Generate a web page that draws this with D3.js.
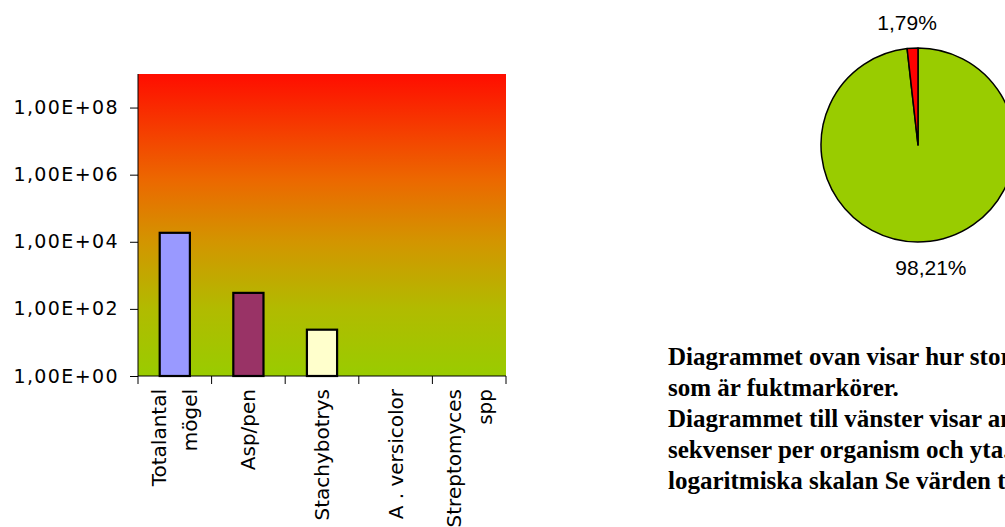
<!DOCTYPE html>
<html>
<head>
<meta charset="utf-8">
<script src="https://cdn.jsdelivr.net/npm/d3@7"></script>
<style>
  body { margin: 0; background: #fff; }
  svg { display: block; }
</style>
</head>
<body>
<div id="chart"></div>
<script>
// Bar chart data (log scale)
const categories = ['Totalantal mögel', 'Asp/pen', 'Stachybotrys', 'A . versicolor', 'Streptomyces spp']
const categoryLines = [['Totalantal', 'mögel'], ['Asp/pen'], ['Stachybotrys'], ['A . versicolor'], ['Streptomyces', 'spp']]
const barValues = [18500, 300, 24, 0, 0]
const barColors = ['#9999ff', '#993366', '#ffffcc', '#ccffff', '#660066']
const yTicks = [1, 1e2, 1e4, 1e6, 1e8]

// Pie chart data
const pieLabels = ['Övrigt', 'Fuktmarkörer']
const pieValues = [98.21, 1.79]
const pieColors = ['#99cc00', '#ff0000']

// Text beside the charts
const noteLines = [
  'Diagrammet ovan visar hur stor',
  'som är fuktmarkörer.',
  'Diagrammet till vänster visar antal',
  'sekvenser per organism och yta.',
  'logaritmiska skalan Se värden till'
]

const width = 1005
const height = 527

const svg = d3.select('#chart')
  .append('svg')
  .attr('width', width)
  .attr('height', height)

// ---- Bar chart ----
const plot = { left: 138, right: 506, top: 74, bottom: 376 }

const x = d3.scaleBand()
  .domain(categories)
  .range([plot.left, plot.right])
  .paddingInner(0.59)
  .paddingOuter(0.295)

const y = d3.scaleLog()
  .domain([1, 1e9])
  .range([plot.bottom, plot.top])

// background gradient red -> green
const defs = svg.append('defs')
const grad = defs.append('linearGradient')
  .attr('id', 'bg')
  .attr('x1', 0).attr('y1', 0)
  .attr('x2', 0).attr('y2', 1)
const stops = [[0, '#ff0d00'], [0.35, '#ec6800'], [0.56, '#d29600'], [0.78, '#b1bb00'], [1, '#99cc00']]
grad.selectAll('stop')
  .data(stops)
  .join('stop')
  .attr('offset', d => d[0])
  .attr('stop-color', d => d[1])

svg.append('rect')
  .attr('x', plot.left)
  .attr('y', plot.top)
  .attr('width', plot.right - plot.left)
  .attr('height', plot.bottom - plot.top)
  .attr('fill', 'url(#bg)')

// bars, skip zero values since they can't be drawn on a log scale
svg.append('g')
  .selectAll('rect')
  .data(categories.map((c, i) => ({ cat: c, value: barValues[i], color: barColors[i] })).filter(d => d.value > 0))
  .join('rect')
  .attr('x', d => x(d.cat))
  .attr('y', d => y(d.value))
  .attr('width', x.bandwidth())
  .attr('height', d => y(1) - y(d.value))
  .attr('fill', d => d.color)
  .attr('stroke', '#000')
  .attr('stroke-width', 2.2)

// y axis with "1,00E+08" style labels
function sciFormat(v) {
  const exp = Math.round(Math.log10(v))
  return '1,00E+' + String(exp).padStart(2, '0')
}

const yAxis = svg.append('g')
  .attr('transform', 'translate(' + plot.left + ',0)')
  .call(d3.axisLeft(y).tickValues(yTicks).tickFormat(sciFormat).tickSize(8).tickPadding(11).tickSizeOuter(0))
yAxis.select('.domain').attr('d', 'M0,' + plot.top + 'V' + plot.bottom)
yAxis.selectAll('text')
  .attr('font-family', 'DejaVu Sans, Verdana, sans-serif')
  .attr('font-size', 19)
  .attr('letter-spacing', 1.4)
  .attr('fill', '#000')

// x axis: baseline plus ticks on category boundaries
const xAxis = svg.append('g')
const gap = (x.step() - x.bandwidth()) / 2
const boundaries = categories.map(c => x(c) - gap).concat([plot.right])

xAxis.append('line')
  .attr('x1', plot.left).attr('x2', plot.right)
  .attr('y1', plot.bottom).attr('y2', plot.bottom)
  .attr('stroke', '#000')

xAxis.selectAll('.tick')
  .data(boundaries)
  .join('line')
  .attr('class', 'tick')
  .attr('x1', d => d).attr('x2', d => d)
  .attr('y1', plot.bottom).attr('y2', plot.bottom + 8)
  .attr('stroke', '#000')

const lineGap = 31
xAxis.selectAll('.cat-label')
  .data(categories)
  .join('text')
  .attr('class', 'cat-label')
  .attr('transform', d => 'translate(' + (x(d) + x.bandwidth() / 2) + ',' + (plot.bottom + 13) + ') rotate(-90)')
  .attr('text-anchor', 'end')
  .attr('font-family', 'DejaVu Sans, Verdana, sans-serif')
  .attr('font-size', 20)
  .attr('fill', '#000')
  .each(function (d, i) {
    const lines = categoryLines[i]
    d3.select(this).selectAll('tspan')
      .data(lines)
      .join('tspan')
      .attr('x', 0)
      .attr('y', (l, j) => (j - (lines.length - 1) / 2) * lineGap + 7)
      .text(l => l)
  })

// ---- Pie chart ----
const pieCx = 918
const pieCy = 145
const radius = 97

const pie = d3.pie()
  .sort(null)
  .value(d => d)

const arc = d3.arc()
  .innerRadius(0)
  .outerRadius(radius)

const labelArc = d3.arc()
  .innerRadius(radius + 26)
  .outerRadius(radius + 26)

const pieGroup = svg.append('g')
  .attr('transform', 'translate(' + pieCx + ',' + pieCy + ')')

const pieData = pie(pieValues)

pieGroup.selectAll('path')
  .data(pieData)
  .join('path')
  .attr('d', arc)
  .attr('fill', (d, i) => pieColors[i])
  .attr('stroke', '#000')
  .attr('stroke-width', 1.5)
  .attr('stroke-linejoin', 'round')

const pctFormat = v => d3.format('.2f')(v).replace('.', ',') + '%'

// labels sit just outside the pie; the big slice label is nudged right like the original
pieGroup.selectAll('text')
  .data(pieData)
  .join('text')
  .attr('x', d => labelArc.centroid(d)[0])
  .attr('y', d => labelArc.centroid(d)[1])
  .attr('dx', (d, i) => i === 0 ? 6 : -4)
  .attr('dy', '0.35em')
  .attr('text-anchor', 'middle')
  .attr('font-family', 'Liberation Sans, Arial, sans-serif')
  .attr('font-size', 21)
  .attr('fill', '#000')
  .text(d => pctFormat(d.value))

// ---- Description text ----
svg.append('text')
  .attr('font-family', 'Liberation Serif, Times New Roman, serif')
  .attr('font-weight', 'bold')
  .attr('font-size', 25)
  .attr('fill', '#000')
  .selectAll('tspan')
  .data(noteLines)
  .join('tspan')
  .attr('x', 668)
  .attr('y', (d, i) => 365 + i * 31)
  .text(d => d)
</script>
</body>
</html>
